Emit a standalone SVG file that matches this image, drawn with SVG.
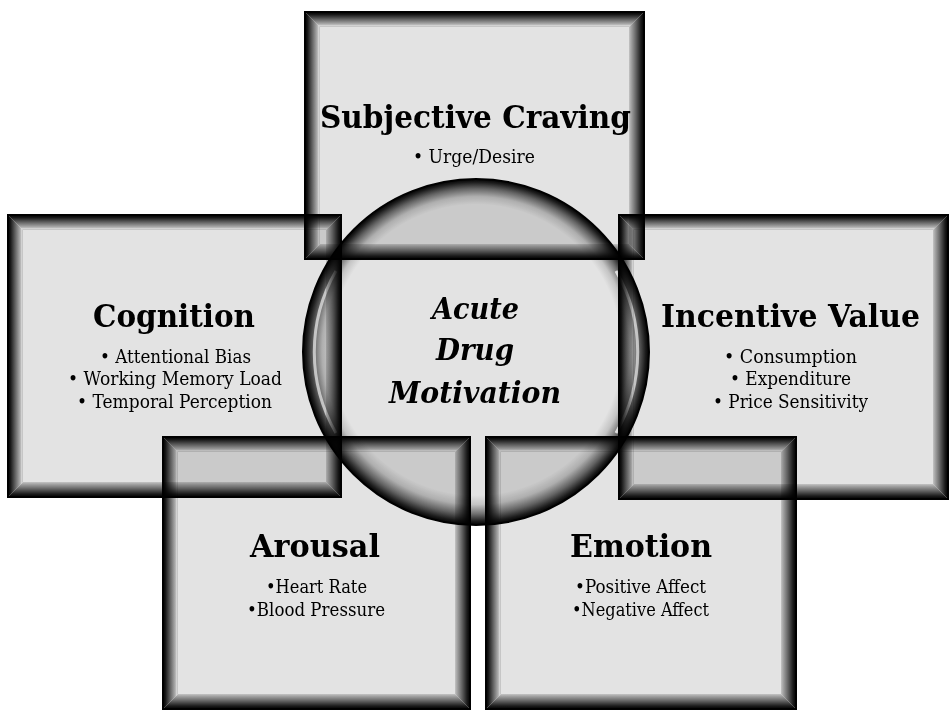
<svg xmlns="http://www.w3.org/2000/svg" width="949" height="710" viewBox="0 0 949 710">
<style>
.node{mix-blend-mode:multiply}
.face{fill:#e3e3e3}
.edge{fill:none;stroke:#000;stroke-width:2}
.t{fill:#000;stroke:none}
.bT{fill:url(#gT)}.bB{fill:url(#gB)}.bL{fill:url(#gL)}.bR{fill:url(#gR)}
.title{font-family:"DejaVu Serif","Liberation Serif",serif;font-weight:bold;font-size:32px;text-anchor:middle}
.item{font-family:"DejaVu Serif","Liberation Serif",serif;font-size:18.5px;text-anchor:middle}
.center{font-family:"DejaVu Serif","Liberation Serif",serif;font-weight:bold;font-style:italic;font-size:29px;text-anchor:middle}
.hl{fill:none;stroke:#fff;stroke-width:3;stroke-opacity:0.75}
</style>
<defs>
<linearGradient id="gT" x1="0" y1="0" x2="0" y2="1">
<stop offset="0" stop-color="#000"/><stop offset="0.15" stop-color="#141414"/><stop offset="0.5" stop-color="#666"/><stop offset="0.82" stop-color="#b0b0b0"/><stop offset="0.9" stop-color="#d2d2d2"/><stop offset="1" stop-color="#c0c0c0"/>
</linearGradient>
<linearGradient id="gL" x1="0" y1="0" x2="1" y2="0">
<stop offset="0" stop-color="#000"/><stop offset="0.15" stop-color="#141414"/><stop offset="0.5" stop-color="#666"/><stop offset="0.82" stop-color="#b0b0b0"/><stop offset="0.9" stop-color="#d2d2d2"/><stop offset="1" stop-color="#c0c0c0"/>
</linearGradient>
<linearGradient id="gB" x1="0" y1="1" x2="0" y2="0">
<stop offset="0" stop-color="#000"/><stop offset="0.2" stop-color="#1c1c1c"/><stop offset="0.6" stop-color="#707070"/><stop offset="0.88" stop-color="#a8a8a8"/><stop offset="1" stop-color="#c4c4c4"/>
</linearGradient>
<linearGradient id="gR" x1="1" y1="0" x2="0" y2="0">
<stop offset="0" stop-color="#000"/><stop offset="0.2" stop-color="#1c1c1c"/><stop offset="0.6" stop-color="#707070"/><stop offset="0.88" stop-color="#a8a8a8"/><stop offset="1" stop-color="#c4c4c4"/>
</linearGradient>
<radialGradient id="gC" cx="0.5" cy="0.5" r="0.5" fx="0.5" fy="0.46">
<stop offset="0" stop-color="#e3e3e3"/><stop offset="0.84" stop-color="#e3e3e3"/><stop offset="0.89" stop-color="#c4c4c4"/><stop offset="0.94" stop-color="#707070"/><stop offset="0.98" stop-color="#1e1e1e"/><stop offset="1" stop-color="#000"/>
</radialGradient>
</defs>

<g id="connectors"/>

<g id="node-subjective-craving" class="node">
<rect class="face" x="305" y="12" width="339" height="247"/>
<polygon class="bT" points="305,12 644,12 629,27 320,27"/>
<polygon class="bB" points="305,259 644,259 629,244 320,244"/>
<polygon class="bL" points="305,12 320,27 320,244 305,259"/>
<polygon class="bR" points="644,12 629,27 629,244 644,259"/>
<rect class="edge" x="305" y="12" width="339" height="247"/>
<text class="t title" x="475.5" y="128" textLength="311" lengthAdjust="spacingAndGlyphs">Subjective Craving</text>
<text class="t item" x="474" y="163" textLength="122" lengthAdjust="spacingAndGlyphs">• Urge/Desire</text>
</g>

<g id="node-cognition" class="node">
<rect class="face" x="8" y="215" width="333" height="282"/>
<polygon class="bT" points="8,215 341,215 326,230 23,230"/>
<polygon class="bB" points="8,497 341,497 326,482 23,482"/>
<polygon class="bL" points="8,215 23,230 23,482 8,497"/>
<polygon class="bR" points="341,215 326,230 326,482 341,497"/>
<rect class="edge" x="8" y="215" width="333" height="282"/>
<text class="t title" x="174" y="327" textLength="162" lengthAdjust="spacingAndGlyphs">Cognition</text>
<text class="t item" x="175.5" y="363" textLength="151" lengthAdjust="spacingAndGlyphs">• Attentional Bias</text>
<text class="t item" x="175" y="385" textLength="214" lengthAdjust="spacingAndGlyphs">• Working Memory Load</text>
<text class="t item" x="174.5" y="408" textLength="195" lengthAdjust="spacingAndGlyphs">• Temporal Perception</text>
</g>

<g id="node-incentive-value" class="node">
<rect class="face" x="619" y="215" width="329" height="284"/>
<polygon class="bT" points="619,215 948,215 933,230 634,230"/>
<polygon class="bB" points="619,499 948,499 933,484 634,484"/>
<polygon class="bL" points="619,215 634,230 634,484 619,499"/>
<polygon class="bR" points="948,215 933,230 933,484 948,499"/>
<rect class="edge" x="619" y="215" width="329" height="284"/>
<text class="t title" x="790.5" y="327" textLength="259" lengthAdjust="spacingAndGlyphs">Incentive Value</text>
<text class="t item" x="790.5" y="363" textLength="133" lengthAdjust="spacingAndGlyphs">• Consumption</text>
<text class="t item" x="790.5" y="385" textLength="121" lengthAdjust="spacingAndGlyphs">• Expenditure</text>
<text class="t item" x="790.5" y="408" textLength="155" lengthAdjust="spacingAndGlyphs">• Price Sensitivity</text>
</g>

<g id="node-arousal" class="node">
<rect class="face" x="163" y="437" width="307" height="272"/>
<polygon class="bT" points="163,437 470,437 455,452 178,452"/>
<polygon class="bB" points="163,709 470,709 455,694 178,694"/>
<polygon class="bL" points="163,437 178,452 178,694 163,709"/>
<polygon class="bR" points="470,437 455,452 455,694 470,709"/>
<rect class="edge" x="163" y="437" width="307" height="272"/>
<text class="t title" x="315" y="557" textLength="130" lengthAdjust="spacingAndGlyphs">Arousal</text>
<text class="t item" x="316.5" y="593" textLength="101" lengthAdjust="spacingAndGlyphs">•Heart Rate</text>
<text class="t item" x="316" y="616" textLength="138" lengthAdjust="spacingAndGlyphs">•Blood Pressure</text>
</g>

<g id="node-emotion" class="node">
<rect class="face" x="486" y="437" width="310" height="272"/>
<polygon class="bT" points="486,437 796,437 781,452 501,452"/>
<polygon class="bB" points="486,709 796,709 781,694 501,694"/>
<polygon class="bL" points="486,437 501,452 501,694 486,709"/>
<polygon class="bR" points="796,437 781,452 781,694 796,709"/>
<rect class="edge" x="486" y="437" width="310" height="272"/>
<text class="t title" x="641" y="557" textLength="142" lengthAdjust="spacingAndGlyphs">Emotion</text>
<text class="t item" x="640.5" y="593" textLength="131" lengthAdjust="spacingAndGlyphs">•Positive Affect</text>
<text class="t item" x="640.5" y="616" textLength="137" lengthAdjust="spacingAndGlyphs">•Negative Affect</text>
</g>

<g id="node-acute-drug-motivation" class="node">
<circle cx="476" cy="352" r="173" fill="url(#gC)"/>
<circle cx="476" cy="352" r="173" fill="none" stroke="#000" stroke-width="2"/>
<path class="hl" d="M336,271 A162,162 0 0 0 336,433"/>
<path class="hl" d="M616,271 A162,162 0 0 1 616,433" stroke-opacity="0.5"/>
<text class="t center" x="475.5" y="319" textLength="87" lengthAdjust="spacingAndGlyphs">Acute</text>
<text class="t center" x="475" y="360" textLength="78" lengthAdjust="spacingAndGlyphs">Drug</text>
<text class="t center" x="475" y="403" textLength="172" lengthAdjust="spacingAndGlyphs">Motivation</text>
</g>
</svg>
